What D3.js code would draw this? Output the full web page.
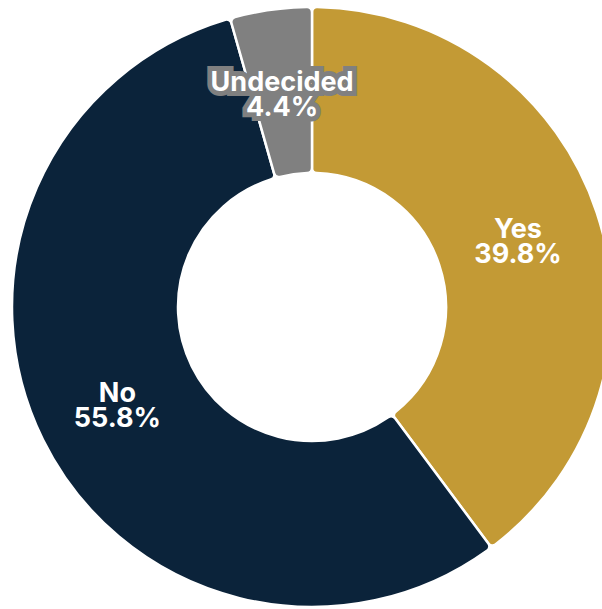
<!DOCTYPE html>
<html>
<head>
<meta charset="utf-8">
<script src="https://cdn.jsdelivr.net/npm/d3@7"></script>
<style>
  body { margin: 0; background: #fff; }
  svg { display: block; }
</style>
</head>
<body>
<div id="chart"></div>
<script>
  var labels = ["Yes", "No", "Undecided"];
  var values = [39.8, 55.8, 4.4];
  var colors = ["#C39A35", "#0B233A", "#808080"];

  var width = 602, height = 609;
  var cx = 312, cy = 307;
  var outerR = 300, innerR = 134;

  var svg = d3.select("#chart")
    .append("svg")
    .attr("width", width)
    .attr("height", height);

  var g = svg.append("g").attr("transform", "translate(" + cx + "," + cy + ")");

  var data = labels.map(function(l, i){ return {label: l, value: values[i], color: colors[i]}; });

  var pie = d3.pie().sort(null).value(function(d){ return d.value; });
  var arc = d3.arc().innerRadius(innerR).outerRadius(outerR).cornerRadius(5);

  var arcs = pie(data);

  g.selectAll("path")
    .data(arcs)
    .enter()
    .append("path")
    .attr("d", arc)
    .style("fill", function(d){ return d.data.color; })
    .style("stroke", "#fff")
    .style("stroke-width", 2.5);

  // labels with a halo in the slice colour (only shows where it spills over)
  var txt = g.selectAll("text")
    .data(arcs)
    .enter()
    .append("text")
    .attr("transform", function(d){
      var c = arc.centroid(d);
      return "translate(" + c[0] + "," + c[1] + ")";
    })
    .attr("text-anchor", "middle")
    .style("font-family", "Inter, 'Noto Sans', sans-serif")
    .style("font-weight", "700")
    .style("font-size", "27px")
    .style("fill", "#fff")
    .style("stroke", function(d){ return d.data.color; })
    .style("stroke-width", 10)
    .style("stroke-linejoin", "miter")
    .style("paint-order", "stroke");

  txt.append("tspan").attr("x", 0).attr("y", -1).text(function(d){ return d.data.label; });
  txt.append("tspan").attr("x", 0).attr("y", 24).text(function(d){ return d.data.value.toFixed(1) + "%"; });
</script>
</body>
</html>
